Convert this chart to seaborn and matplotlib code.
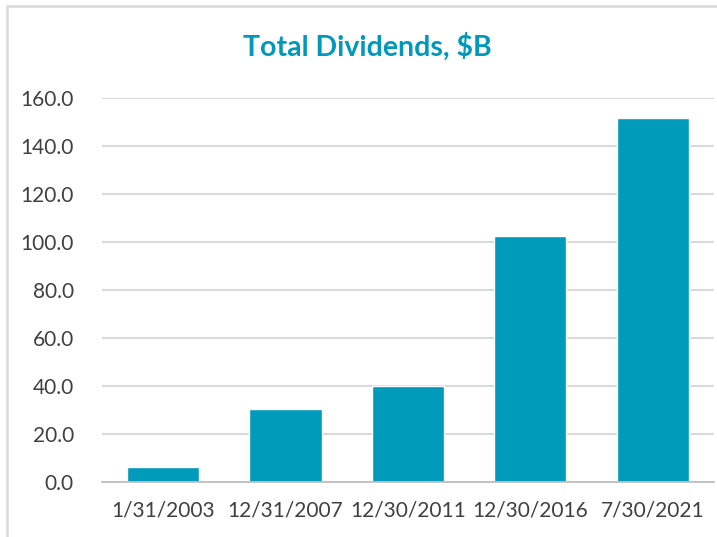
import matplotlib
matplotlib.use("Agg")
import matplotlib.pyplot as plt
import seaborn as sns
import pandas as pd
from matplotlib.patches import Rectangle

categories = ["1/31/2003", "12/31/2007", "12/30/2011", "12/30/2016", "7/30/2021"]
dividends = [6.3, 30.3, 40.0, 102.5, 151.8]
y_ticks = [0, 20, 40, 60, 80, 100, 120, 140, 160]

df = pd.DataFrame({"date": categories, "value": dividends})

sns.set_theme(style="white")
plt.rcParams["font.family"] = ["Lato", "DejaVu Sans"]

fig = plt.figure(figsize=(7.17, 5.37), dpi=100)
ax = fig.add_axes([101.7 / 717, 1 - 482 / 537, (714 - 101.7) / 717, (482 - 98.3) / 537])

sns.barplot(data=df, x="date", y="value", color="#009ABB", width=0.59,
            saturation=1, ax=ax, zorder=3)

ax.set_ylim(0, 160)
ax.set_xlim(-0.5, len(categories) - 0.5)
ax.set_yticks(y_ticks)
ax.set_yticklabels([f"{v:.1f}" for v in y_ticks])
ax.yaxis.grid(True, color="#D9D9D9", linewidth=1.5, zorder=0)
ax.set_axisbelow(True)
for s in ["top", "right", "left"]:
    ax.spines[s].set_visible(False)
ax.spines["bottom"].set_color("#BFBFBF")
ax.spines["bottom"].set_linewidth(1.3)
ax.spines["bottom"].set_zorder(4)

ax.set_xticks([i for i in range(len(categories))])
ax.set_xticklabels(categories)
ax.tick_params(axis="x", length=0, pad=13, labelsize=15, labelcolor="#404040")
ax.tick_params(axis="y", length=0, pad=20, labelsize=15, labelcolor="#404040")
# category boundary ticks
ax.set_xticks([i - 0.5 for i in range(len(categories) + 1)], minor=True)
ax.tick_params(axis="x", which="minor", length=7, width=1.3, color="#BFBFBF", direction="out")
ax.set_xlabel("")
ax.set_ylabel("")

fig.text(367 / 717, 1 - 47 / 537, "Total Dividends, $B", ha="center", va="center",
         fontsize=20.5, fontweight="bold", color="#0099BB")

border = Rectangle((7 / 717, -0.1), 1.2, 1 - 6 / 537 + 0.1, transform=fig.transFigure,
                   fill=False, edgecolor="#D9D9D9", linewidth=1.8)
fig.add_artist(border)

fig.savefig("out.png", dpi=100)
